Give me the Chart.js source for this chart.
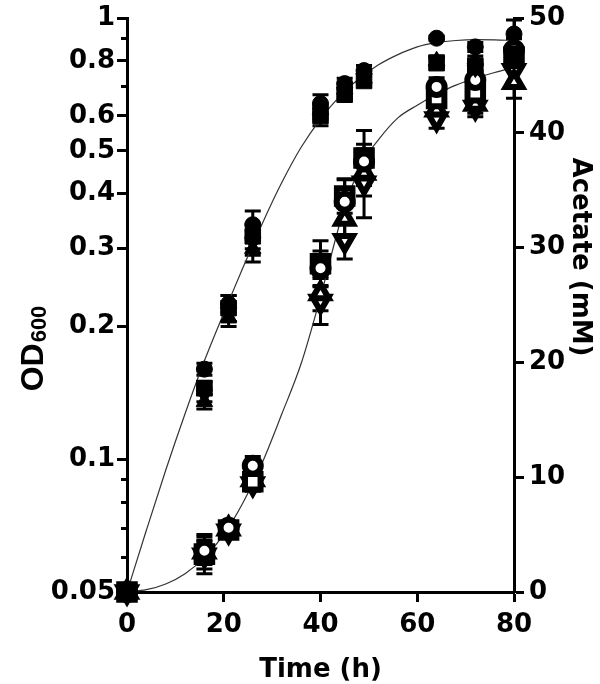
<!DOCTYPE html>
<html>
<head>
<meta charset="utf-8">
<script src="https://cdn.jsdelivr.net/npm/chart.js@4.4.1/dist/chart.umd.min.js"></script>
<style>
  html, body { margin: 0; padding: 0; background: #fff; }
  #wrap { width: 600px; height: 684px; }
</style>
</head>
<body>
<div id="wrap"><canvas id="growthChart"></canvas></div>
<script>
// sampling times (h)
const timeH = [0, 16, 21, 26, 40, 45, 49, 64, 72, 80];

// OD600, filled markers
const odCircle   = [0.05, 0.16, 0.225, 0.34, 0.64, 0.71, 0.76, 0.90, 0.86, 0.92];
const odSquare   = [0.05, 0.145, 0.22, 0.32, 0.60, 0.67, 0.72, 0.79, 0.78, 0.83];
const odTri      = [0.05, 0.135, 0.21, 0.30, 0.62, 0.69, 0.73, 0.80, 0.80, 0.82];
const odTriDown  = [0.05, 0.14, 0.215, 0.31, 0.61, 0.68, 0.73, 0.80, 0.77, 0.80];
const odCircleErr  = [0, 0.005, 0.01, 0.025, 0.03, 0.02, 0.02, 0.01, 0.02, 0.07];
const odSquareErr  = [0, 0.005, 0.015, 0.02, 0.03, 0.02, 0.02, 0.02, 0.02, 0.03];
const odTriErr     = [0, 0.005, 0.01, 0.02, 0.02, 0.02, 0.02, 0.02, 0.02, 0.03];
const odTriDownErr = [0, 0.005, 0.01, 0.02, 0.02, 0.02, 0.02, 0.02, 0.02, 0.03];

// acetate (mM), open markers
const acCircle   = [0, 3.6, 5.6, 11.0, 28.2, 34.0, 37.5, 44.0, 44.6, 47.2];
const acSquare   = [0, 3.3, 5.4, 9.6, 28.6, 34.5, 37.8, 43.0, 43.5, 46.6];
const acTri      = [0, 3.5, 5.5, 9.8, 26.0, 32.5, 36.5, 42.0, 42.5, 44.4];
const acTriDown  = [0, 3.2, 5.3, 9.4, 25.3, 30.6, 35.6, 41.2, 42.2, 45.4];
const acCircleErr  = [0, 1.2, 0.5, 0.8, 1.5, 1.9, 1.5, 0.8, 0.8, 1.0];
const acSquareErr  = [0, 1.7, 0.6, 0.8, 2.0, 1.5, 2.4, 0.8, 0.8, 1.0];
const acTriErr     = [0, 1.0, 0.5, 0.6, 1.5, 1.5, 2.0, 0.7, 0.8, 1.4];
const acTriDownErr = [0, 1.2, 0.5, 0.6, 2.0, 1.6, 3.0, 0.8, 0.8, 1.0];

// fitted curves
const fitT  = [0, 4, 8, 12, 16, 20, 24, 28, 32, 36, 40, 44, 48, 52, 56, 60, 64, 68, 72, 76, 80];
const odFit = [0.05, 0.069, 0.0944, 0.1268, 0.1671, 0.2143, 0.2723, 0.3428, 0.4236, 0.5093, 0.5902, 0.6653, 0.7295, 0.7834, 0.826, 0.86, 0.879, 0.8892, 0.8933, 0.8923, 0.8892];
const acFit = [0, 0.2, 0.7, 1.6, 3.0, 5.0, 7.8, 11.3, 15.5, 19.9, 25.7, 32.1, 36.9, 39.4, 41.3, 42.4, 43.35, 44.15, 44.75, 45.25, 45.7];

// axis ticks
const xTicks = [0, 20, 40, 60, 80];
const odTicks = [0.05, 0.1, 0.2, 0.3, 0.4, 0.5, 0.6, 0.8, 1];
const odTickLabels = ['0.05', '0.1', '0.2', '0.3', '0.4', '0.5', '0.6', '0.8', '1'];
const odMinorTicks = [0.06, 0.07, 0.08, 0.09, 0.7, 0.9];
const acTicks = [0, 10, 20, 30, 40, 50];

const tickFont = { family: 'DejaVu Sans', size: 26, weight: 'bold', lineHeight: 1 };
const pts = (ys) => timeH.map((t, i) => ({ x: t, y: ys[i] }));

const markerSet = (label, ys, errs, axis, style, open, rot) => ({
    label, data: pts(ys), errors: errs, yAxisID: axis,
    showLine: false, clip: false, order: open ? 2 : 1,
    pointStyle: style, rotation: rot || 0,
    pointRadius: style === 'rect' ? 11 : (style === 'triangle' ? 9.5 : 8),
    pointBackgroundColor: open ? '#fff' : '#000',
    pointBorderColor: '#000',
    pointBorderWidth: open ? 6 : 1
});

const errorBars = {
    id: 'errorBars',
    beforeDatasetsDraw(chart) {
        const ctx = chart.ctx;
        const xs = chart.scales.x;
        ctx.save();
        ctx.strokeStyle = '#000';
        ctx.lineWidth = 3;
        chart.data.datasets.forEach(ds => {
            if (!ds.errors) return;
            const ys = chart.scales[ds.yAxisID];
            ds.data.forEach((p, i) => {
                const e = ds.errors[i];
                if (!e) return;
                const px = xs.getPixelForValue(p.x);
                const top = ys.getPixelForValue(p.y + e);
                const bot = ys.getPixelForValue(p.y - e);
                ctx.beginPath();
                ctx.moveTo(px, top); ctx.lineTo(px, bot);
                ctx.moveTo(px - 8, top); ctx.lineTo(px + 8, top);
                ctx.moveTo(px - 8, bot); ctx.lineTo(px + 8, bot);
                ctx.stroke();
            });
        });
        ctx.restore();
    }
};

const axisExtras = {
    id: 'axisExtras',
    afterDraw(chart) {
        const ctx = chart.ctx;
        const y = chart.scales.y;
        const area = chart.chartArea;
        ctx.save();
        ctx.strokeStyle = '#000';
        ctx.lineWidth = 3;
        odMinorTicks.forEach(v => {
            const py = Math.round(y.getPixelForValue(v)) + 0.5;
            ctx.beginPath();
            ctx.moveTo(area.left - 6, py);
            ctx.lineTo(area.left, py);
            ctx.stroke();
        });

        ctx.fillStyle = '#000';
        // x title
        ctx.font = 'bold 26px "DejaVu Sans"';
        ctx.textAlign = 'center';
        ctx.textBaseline = 'alphabetic';
        ctx.fillText('Time (h)', (area.left + area.right) / 2, 677);

        // right title
        ctx.save();
        ctx.translate(580, 257);
        ctx.rotate(Math.PI / 2);
        ctx.textBaseline = 'middle';
        ctx.fillText('Acetate (mM)', 0, 0);
        ctx.restore();

        // left title with subscript
        ctx.save();
        ctx.translate(43, 349);
        ctx.rotate(-Math.PI / 2);
        ctx.textAlign = 'left';
        ctx.textBaseline = 'alphabetic';
        ctx.font = 'bold 32px "Liberation Sans"';
        const w1 = ctx.measureText('OD').width;
        ctx.font = 'bold 22px "Liberation Sans"';
        const w2 = ctx.measureText('600').width;
        const start = -(w1 + w2) / 2;
        ctx.font = 'bold 32px "Liberation Sans"';
        ctx.fillText('OD', start, 0);
        ctx.font = 'bold 22px "Liberation Sans"';
        ctx.fillText('600', start + w1 + 1, 3);
        ctx.restore();
        ctx.restore();
    }
};

const axisLine = { display: true, width: 3, color: '#000' };
const tickGrid = { drawOnChartArea: false, drawTicks: true, tickLength: 10, tickWidth: 3, tickColor: '#000' };

new Chart(document.getElementById('growthChart'), {
    type: 'line',
    data: {
        datasets: [
            markerSet('OD circle', odCircle, odCircleErr, 'y', 'circle', false),
            markerSet('OD square', odSquare, odSquareErr, 'y', 'rect', false),
            markerSet('OD triangle', odTri, odTriErr, 'y', 'triangle', false),
            markerSet('OD inverted triangle', odTriDown, odTriDownErr, 'y', 'triangle', false, 180),
            markerSet('Acetate circle', acCircle, acCircleErr, 'y2', 'circle', true),
            markerSet('Acetate square', acSquare, acSquareErr, 'y2', 'rect', true),
            markerSet('Acetate triangle', acTri, acTriErr, 'y2', 'triangle', true),
            markerSet('Acetate inverted triangle', acTriDown, acTriDownErr, 'y2', 'triangle', true, 180),
            {
                label: 'OD fit', data: fitT.map((t, i) => ({ x: t, y: odFit[i] })), yAxisID: 'y',
                borderColor: '#333', borderWidth: 1.2, pointRadius: 0, cubicInterpolationMode: 'monotone', order: 10
            },
            {
                label: 'Acetate fit', data: fitT.map((t, i) => ({ x: t, y: acFit[i] })), yAxisID: 'y2',
                borderColor: '#333', borderWidth: 1.2, pointRadius: 0, cubicInterpolationMode: 'monotone', order: 10
            }
        ]
    },
    options: {
        responsive: true,
        maintainAspectRatio: false,
        animation: false,
        layout: { padding: { top: 13, left: 0, right: 0, bottom: 0 } },
        plugins: { legend: { display: false }, tooltip: { enabled: false } },
        scales: {
            x: {
                type: 'linear', min: 0, max: 80,
                afterBuildTicks: s => { s.ticks = xTicks.map(v => ({ value: v })); },
                afterFit: s => { s.height = 92; },
                ticks: { font: tickFont, color: '#000', padding: 10 },
                grid: tickGrid, border: axisLine
            },
            y: {
                type: 'logarithmic', position: 'left', min: 0.05, max: 1,
                afterBuildTicks: s => { s.ticks = odTicks.map(v => ({ value: v })); },
                afterFit: s => { s.width = 127; },
                ticks: { font: tickFont, color: '#000', padding: 2, callback: v => odTickLabels[odTicks.indexOf(v)] },
                grid: tickGrid, border: axisLine
            },
            y2: {
                type: 'linear', position: 'right', min: 0, max: 50,
                afterBuildTicks: s => { s.ticks = acTicks.map(v => ({ value: v })); },
                afterFit: s => { s.width = 86; },
                ticks: { font: tickFont, color: '#000', padding: 5 },
                grid: tickGrid, border: axisLine
            }
        }
    },
    plugins: [errorBars, axisExtras]
});
</script>
</body>
</html>
